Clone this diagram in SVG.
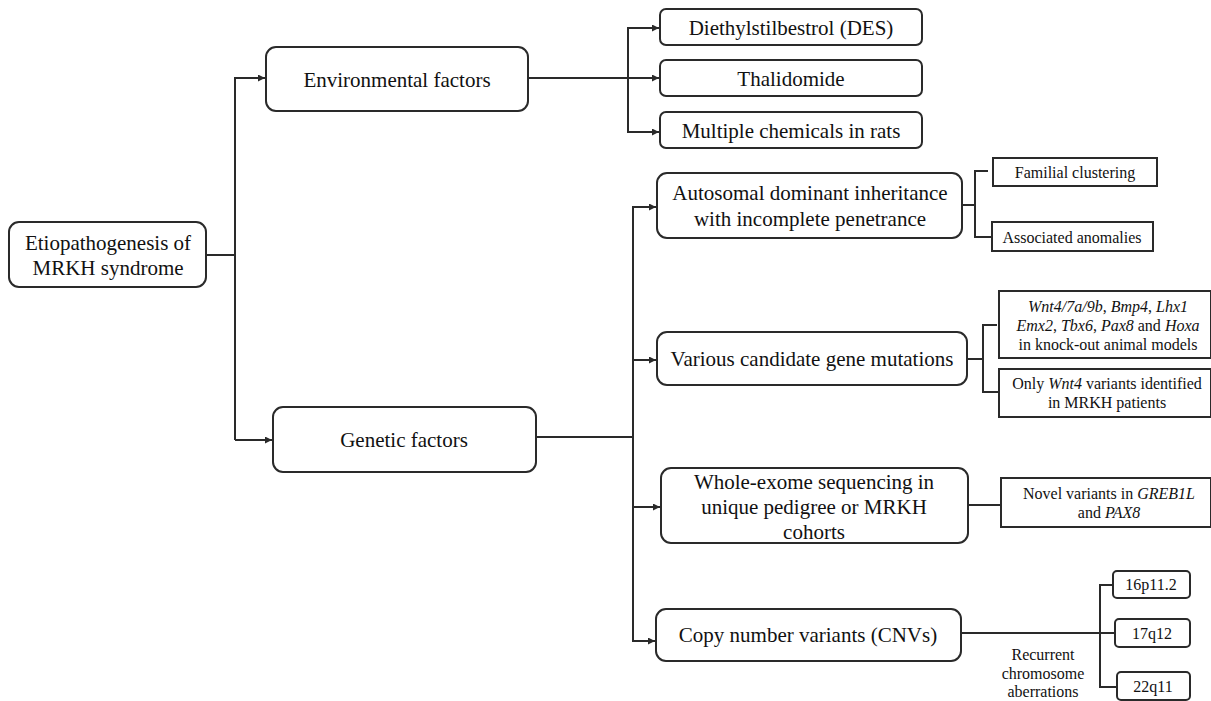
<svg xmlns="http://www.w3.org/2000/svg" width="1211" height="701" viewBox="0 0 1211 701">
<defs>
<style>
.b{fill:#fff;stroke:#2a2a2a;stroke-width:2}
.t{fill:#111;text-anchor:middle}
.L{font-size:21px}
.S{font-size:16px}
.c{fill:none;stroke:#2a2a2a;stroke-width:2}
.i{font-style:italic}
</style>
<marker id="a" viewBox="0 0 10 10" refX="10" refY="5" markerWidth="7" markerHeight="7" markerUnits="userSpaceOnUse" orient="auto"><path d="M0,0 L10,5 L0,10 z" fill="#2a2a2a"/></marker>
</defs>
<rect width="1211" height="701" fill="#fff"/>
<g id="connectors">
<path class="c" d="M206,255 H235"/>
<path class="c" d="M235,440 V78 H265" marker-end="url(#a)"/>
<path class="c" d="M235,440 H272" marker-end="url(#a)"/>
<path class="c" d="M528,78 H659" marker-end="url(#a)"/>
<path class="c" d="M628,78 V28 H659" marker-end="url(#a)"/>
<path class="c" d="M628,78 V132 H659" marker-end="url(#a)"/>
<path class="c" d="M536,437 H633"/>
<path class="c" d="M633,437 V207 H656" marker-end="url(#a)"/>
<path class="c" d="M633,360 H656" marker-end="url(#a)"/>
<path class="c" d="M633,437 V507 H660" marker-end="url(#a)"/>
<path class="c" d="M633,507 V641 H655" marker-end="url(#a)"/>
<path class="c" d="M962,205 H975 M988,171 H975 V237 H992"/>
<path class="c" d="M967,359 H983 M997,325 H983 V392 H999"/>
<path class="c" d="M968,505 H1001"/>
<path class="c" d="M961,633 H1115 M1113,585 H1100 V687 H1117"/>
</g>
<g font-family="Liberation Serif, Tinos, Times New Roman, Nimbus Roman, serif">
<g id="root"><rect class="b" x="9" y="222" width="197" height="65" rx="10"/>
<text class="t L" x="108" y="250">Etiopathogenesis of</text><text class="t L" x="108" y="275">MRKH syndrome</text></g>
<g id="env"><rect class="b" x="266" y="47" width="262" height="64" rx="10"/>
<text class="t L" x="397" y="87">Environmental factors</text></g>
<g id="gen"><rect class="b" x="273" y="407" width="263" height="65" rx="10"/>
<text class="t L" x="404" y="447">Genetic factors</text></g>
<g id="des"><rect class="b" x="660" y="9" width="262" height="36" rx="6"/>
<text class="t L" x="791" y="35">Diethylstilbestrol (DES)</text></g>
<g id="thal"><rect class="b" x="660" y="60" width="262" height="36" rx="6"/>
<text class="t L" x="791" y="86">Thalidomide</text></g>
<g id="multi"><rect class="b" x="660" y="112" width="262" height="36" rx="6"/>
<text class="t L" x="791" y="138">Multiple chemicals in rats</text></g>
<g id="auto"><rect class="b" x="657" y="173" width="305" height="65" rx="10"/>
<text class="t L" x="810" y="200">Autosomal dominant inheritance</text><text class="t L" x="810" y="226">with incomplete penetrance</text></g>
<g id="fam"><rect class="b" x="993" y="158" width="164" height="28"/>
<text class="t S" x="1075" y="178">Familial clustering</text></g>
<g id="assoc"><rect class="b" x="992" y="222" width="161" height="29"/>
<text class="t S" x="1072" y="243">Associated anomalies</text></g>
<g id="various"><rect class="b" x="657" y="332" width="310" height="53" rx="10"/>
<text class="t L" x="812" y="366">Various candidate gene mutations</text></g>
<g id="wnt"><rect class="b" x="999" y="291" width="212" height="67"/>
<text class="t S" x="1108" y="312"><tspan class="i">Wnt4/7a/9b</tspan>, <tspan class="i">Bmp4</tspan>, <tspan class="i">Lhx1</tspan></text>
<text class="t S" x="1108" y="331"><tspan class="i">Emx2</tspan>, <tspan class="i">Tbx6</tspan>, <tspan class="i">Pax8</tspan> and <tspan class="i">Hoxa</tspan></text>
<text class="t S" x="1108" y="350">in knock-out animal models</text></g>
<g id="only"><rect class="b" x="999" y="369" width="212" height="48"/>
<text class="t S" x="1107" y="389">Only <tspan class="i">Wnt4</tspan> variants identified</text>
<text class="t S" x="1107" y="408">in MRKH patients</text></g>
<g id="wes"><rect class="b" x="661" y="468" width="307" height="75" rx="10"/>
<text class="t L" x="814" y="489">Whole-exome sequencing in</text><text class="t L" x="814" y="514">unique pedigree or MRKH</text><text class="t L" x="814" y="539">cohorts</text></g>
<g id="novel"><rect class="b" x="1001" y="478" width="210" height="49"/>
<text class="t S" x="1109" y="499">Novel variants in <tspan class="i">GREB1L</tspan></text>
<text class="t S" x="1109" y="518">and <tspan class="i">PAX8</tspan></text></g>
<g id="cnv"><rect class="b" x="656" y="609" width="305" height="52" rx="10"/>
<text class="t L" x="808" y="642">Copy number variants (CNVs)</text></g>
<g id="c16"><rect class="b" x="1113" y="571" width="77" height="27" rx="4"/>
<text class="t S" x="1151" y="590">16p11.2</text></g>
<g id="c17"><rect class="b" x="1115" y="619" width="75" height="28" rx="4"/>
<text class="t S" x="1152" y="639">17q12</text></g>
<g id="c22"><rect class="b" x="1117" y="672" width="73" height="28" rx="4"/>
<text class="t S" x="1153" y="692">22q11</text></g>
<g id="label"><text class="t S" x="1043" y="660">Recurrent</text><text class="t S" x="1043" y="679">chromosome</text><text class="t S" x="1043" y="697">aberrations</text></g>
</g>
</svg>
